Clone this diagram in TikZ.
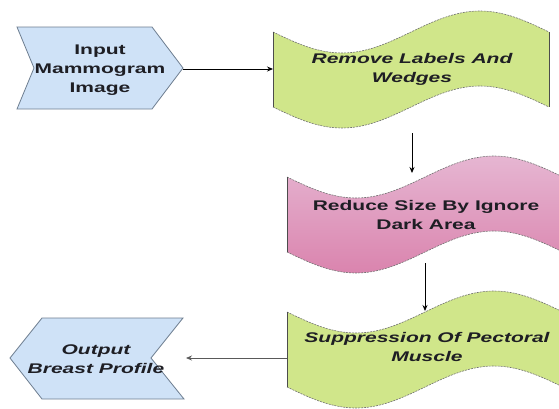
\documentclass[tikz,border=0pt]{standalone}
\usepackage{fontspec}
\setmainfont{Liberation Sans}
\usepackage{graphicx}
\usetikzlibrary{arrows.meta}
\definecolor{chevblue}{HTML}{CFE2F7}
\definecolor{chevline}{HTML}{6E7E90}
\definecolor{wavegreen}{HTML}{D0E68A}
\definecolor{pinktop}{HTML}{E6B6D2}
\definecolor{pinkbot}{HTML}{DA84AE}
\definecolor{txt}{HTML}{1E1E24}
\newcommand\wtxt[1]{\scalebox{1.5}[1]{\begin{tabular}{@{}c@{}}#1\end{tabular}}}
\tikzset{
  chev/.style={fill=chevblue, draw=chevline, line width=0.8pt, line join=miter},
  wavefill/.style={draw=none},
  waveside/.style={draw=black!70, line width=0.7pt},
  wavecurve/.style={draw=black!55, line width=0.6pt, dash pattern=on 2pt off 1pt},
  lbl/.style={font=\fontsize{14}{19}\selectfont\bfseries, text=txt, inner sep=0pt},
  conn/.style={draw=black, line width=0.8pt, -{Stealth[length=6pt,width=5pt]}},
  conngray/.style={draw=black!65, line width=0.8pt, -{Stealth[length=6pt,width=5pt]}},
}
\begin{document}
\begin{tikzpicture}[x=1pt,y=-1pt]
\useasboundingbox (0,0) rectangle (559,408);
% input chevron
\path[chev] (17,27) -- (152,27) -- (183,68) -- (152,109) -- (17,109) -- (34,68) -- cycle;
\coordinate (intip) at (183,69);
% output chevron
\path[chev] (42,318) -- (183,318) -- (151,358) -- (184,399) -- (42,399) -- (10,358) -- cycle;
% wave 1 (green)
\fill[wavegreen] plot[domain=0:1,samples=60] ({273+276*\x},{32+21*sin(360*\x)})
  -- plot[domain=1:0,samples=60] ({273+276*\x},{107+21*sin(360*\x)}) -- cycle;
\draw[wavecurve] plot[domain=0:1,samples=60] ({273+276*\x},{32+21*sin(360*\x)});
\draw[wavecurve] plot[domain=0:1,samples=60] ({273+276*\x},{107+21*sin(360*\x)});
\draw[waveside] (273,32) -- (273,107);
\draw[waveside] (549,32) -- (549,107);
% wave 2 (pink)
\shade[top color=pinktop, bottom color=pinkbot] plot[domain=0:1,samples=60] ({287+276*\x},{177+21*sin(360*\x)})
  -- plot[domain=1:0,samples=60] ({287+276*\x},{252+21*sin(360*\x)}) -- cycle;
\draw[wavecurve] plot[domain=0:1,samples=60] ({287+276*\x},{177+21*sin(360*\x)});
\draw[wavecurve] plot[domain=0:1,samples=60] ({287+276*\x},{252+21*sin(360*\x)});
\draw[waveside] (287,177) -- (287,252);
% wave 3 (green)
\fill[wavegreen] plot[domain=0:1,samples=60] ({287+276*\x},{312+21*sin(360*\x)})
  -- plot[domain=1:0,samples=60] ({287+276*\x},{387+21*sin(360*\x)}) -- cycle;
\draw[wavecurve] plot[domain=0:1,samples=60] ({287+276*\x},{312+21*sin(360*\x)});
\draw[wavecurve] plot[domain=0:1,samples=60] ({287+276*\x},{387+21*sin(360*\x)});
\draw[waveside] (287,312) -- (287,387);
% labels
\node[lbl] (in) at (100,70) {\wtxt{Input\\Mammogram\\Image}};
\node[lbl] (rm) at (412,69) {\wtxt{\itshape Remove Labels And\\\itshape Wedges}};
\node[lbl] (rd) at (426,216) {\wtxt{Reduce Size By Ignore\\Dark Area}};
\node[lbl] (sp) at (427,348) {\wtxt{\itshape Suppression Of Pectoral\\\itshape Muscle}};
\node[lbl] (out) at (96,360) {\wtxt{\itshape Output\\\itshape Breast Profile}};
% connector end points
\coordinate (rmleft) at (273,69);
\coordinate (rmbot) at (412,133);
\coordinate (rdtop) at (412,173);
\coordinate (rdbot) at (425,263);
\coordinate (sptop) at (425,311);
\coordinate (spleft) at (287,358);
\coordinate (outright) at (186,358);
% connectors
\draw[conn] (intip) -- (rmleft);
\draw[conn] (rmbot) -- (rdtop);
\draw[conn] (rdbot) -- (sptop);
\draw[conngray] (spleft) -- (outright);
\end{tikzpicture}
\end{document}
